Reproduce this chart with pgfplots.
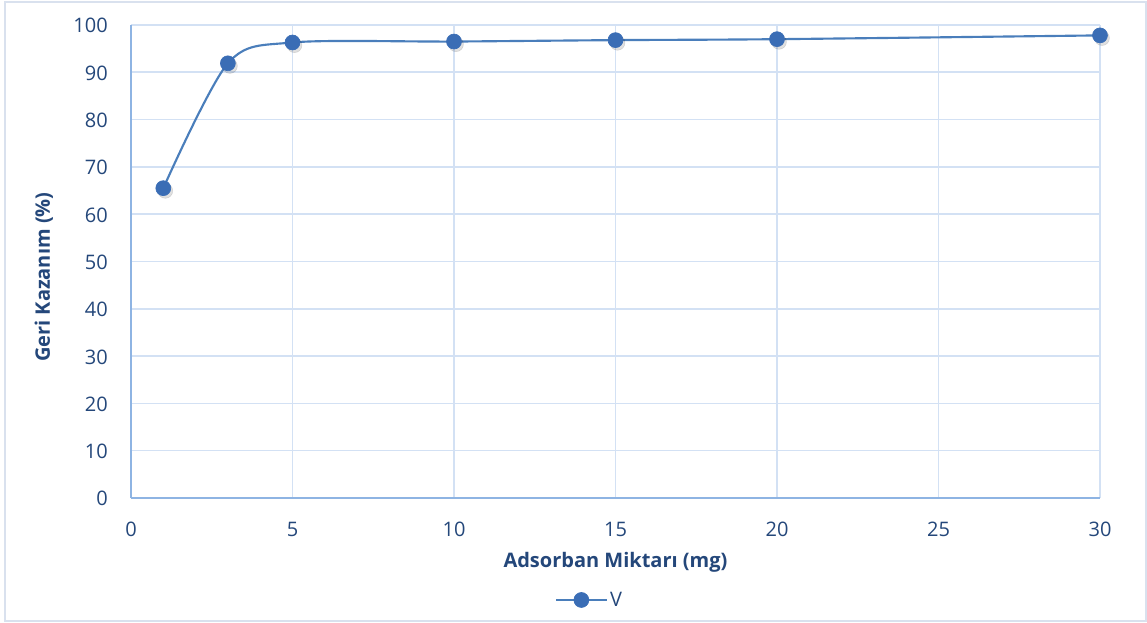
\documentclass[border=0pt]{standalone}
\usepackage{fontspec}
\setmainfont{Open Sans}
\usepackage{pgfplots}
\pgfplotsset{compat=1.18}

\definecolor{seriesblue}{HTML}{4A7EBB}
\definecolor{markblue}{HTML}{3A6DB5}
\definecolor{labelblue}{HTML}{24477A}
\definecolor{axisblue}{HTML}{8EB4E3}
\definecolor{gridblue}{HTML}{D3E1F4}
\definecolor{framegray}{HTML}{D9E1EE}

\begin{document}
\begin{tikzpicture}
% chart area (1px = 0.75pt)
\useasboundingbox (0,0) rectangle (860.25pt,467.25pt);
\draw[framegray, line width=1.5pt] (3.75pt,1.5pt) rectangle (859.5pt,465.75pt);
\begin{axis}[
  at={(98.25pt,93.75pt)}, anchor=south west,
  scale only axis, width=726.75pt, height=354.75pt,
  xmin=0, xmax=30, ymin=0, ymax=100,
  xtick={0,5,...,30}, ytick={0,10,...,100},
  axis lines*=left,
  axis line style={axisblue, line width=1.5pt, -},
  grid=major,
  major grid style={gridblue, line width=1.2pt},
  major tick length=0pt,
  /pgf/number format/assume math mode=true,
  tick label style={font=\fontsize{15}{18}\selectfont, text=labelblue, inner sep=0pt},
  yticklabel style={anchor=base east, xshift=-17.25pt, yshift=-6pt},
  xticklabel style={anchor=base, yshift=-29.25pt},
  xlabel={Adsorban Miktarı (mg)},
  ylabel={Geri Kazanım (\%)},
  label style={font=\bfseries\fontsize{15}{18}\selectfont, text=labelblue, inner sep=0pt},
  xlabel style={at={(axis description cs:0.5,-0.148)}, anchor=base},
  ylabel style={at={(axis description cs:-0.0836,0.467)}, anchor=base},
  legend style={at={(axis description cs:0.4737,-0.2156)}, anchor=center,
    draw=none, fill=none, font=\fontsize{15}{18}\selectfont, text=labelblue,
    /tikz/every even column/.append style={column sep=4pt}},
  legend image code/.code={%
    \draw[mark repeat=2, mark phase=2] plot coordinates {(0pt,0pt) (18.75pt,0pt) (37.5pt,0pt)};},
  clip=false,
]
% soft shadow under the markers
\addplot[draw=none, mark=*, mark size=5.6pt, forget plot,
  mark options={fill=black, draw=none, opacity=0.12, xshift=1.5pt, yshift=-2pt}]
  coordinates {(1,65.5) (3,91.9) (5,96.3) (10,96.5) (15,96.8) (20,97.0) (30,97.8)};
\addplot[seriesblue, line width=1.6pt, smooth, mark=*, mark size=5.6pt,
  mark options={fill=markblue, draw=markblue, line width=0.5pt}]
  coordinates {(1,65.5) (3,91.9) (5,96.3) (10,96.5) (15,96.8) (20,97.0) (30,97.8)};
\addlegendentry{V}
\end{axis}
\end{tikzpicture}
\end{document}
